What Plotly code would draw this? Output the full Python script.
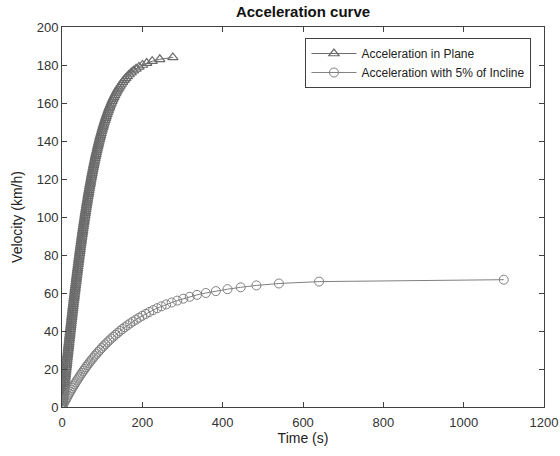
import plotly.graph_objects as go

# Acceleration in plane: velocity (km/h) and time (s)
plane_v = [0, 1, 2, 3, 4, 5, 6, 7, 8, 9, 10, 11, 12, 13, 14, 15, 16, 17, 18, 19, 20,
           21, 22, 23, 24, 25, 26, 27, 28, 29, 30, 31, 32, 33, 34, 35, 36, 37, 38, 39, 40,
           41, 42, 43, 44, 45, 46, 47, 48, 49, 50, 51, 52, 53, 54, 55, 56, 57, 58, 59, 60,
           61, 62, 63, 64, 65, 66, 67, 68, 69, 70, 71, 72, 73, 74, 75, 76, 77, 78, 79, 80,
           81, 82, 83, 84, 85, 86, 87, 88, 89, 90, 91, 92, 93, 94, 95, 96, 97, 98, 99, 100,
           101, 102, 103, 104, 105, 106, 107, 108, 109, 110, 111, 112, 113, 114, 115, 116,
           117, 118, 119, 120, 121, 122, 123, 124, 125, 126, 127, 128, 129, 130, 131, 132,
           133, 134, 135, 136, 137, 138, 139, 140, 141, 142, 143, 144, 145, 146, 147, 148,
           149, 150, 151, 152, 153, 154, 155, 156, 157, 158, 159, 160, 161, 162, 163, 164,
           165, 166, 167, 168, 169, 170, 171, 172, 173, 174, 175, 176, 177, 178, 179, 180,
           181, 182, 183, 184]
plane_t = [0, 0.5, 1.0, 1.5, 2.0, 2.5, 3.0, 3.5, 4.0, 4.5, 5.1, 5.6, 6.1, 6.6, 7.1, 7.6,
           8.1, 8.6, 9.1, 9.6, 10.1, 10.6, 11.2, 11.7, 12.2, 12.7, 13.2, 13.7, 14.2, 14.8,
           15.3, 15.8, 16.3, 16.8, 17.4, 17.9, 18.4, 18.9, 19.5, 20.0, 20.5, 21.0, 21.6,
           22.1, 22.6, 23.2, 23.7, 24.3, 24.8, 25.3, 25.9, 26.4, 27.0, 27.5, 28.1, 28.6,
           29.2, 29.7, 30.3, 30.9, 31.4, 32.0, 32.6, 33.1, 33.7, 34.3, 34.9, 35.4, 36.0,
           36.6, 37.2, 37.8, 38.4, 39.0, 39.6, 40.2, 40.8, 41.4, 42.0, 42.6, 43.2, 43.9,
           44.5, 45.1, 45.7, 46.4, 47.0, 47.7, 48.3, 49.0, 49.6, 50.3, 51.0, 51.6, 52.3,
           53.0, 53.7, 54.4, 55.1, 55.8, 56.5, 57.2, 57.9, 58.7, 59.4, 60.1, 60.9, 61.6,
           62.4, 63.2, 64.0, 64.7, 65.5, 66.3, 67.1, 68.0, 68.8, 69.6, 70.5, 71.3, 72.2,
           73.1, 74.0, 74.9, 75.8, 76.7, 77.6, 78.6, 79.5, 80.5, 81.5, 82.5, 83.5, 84.6,
           85.6, 86.7, 87.8, 88.9, 90.0, 91.2, 92.3, 93.5, 94.7, 96.0, 97.3, 98.5, 99.9,
           101.2, 102.6, 104.0, 105.5, 107.0, 108.5, 110.1, 111.7, 113.4, 115.1, 116.9,
           118.7, 120.6, 122.6, 124.6, 126.7, 128.9, 131.3, 133.7, 136.2, 138.9, 141.7,
           144.6, 147.8, 151.1, 154.7, 158.6, 162.8, 167.4, 172.4, 178.0, 184.4, 191.7,
           200.4, 210.9, 224.5, 243.5, 276.0]

# Acceleration with 5% of incline
incline_v = [0, 1, 2, 3, 4, 5, 6, 7, 8, 9, 10, 11, 12, 13, 14, 15, 16, 17, 18, 19, 20,
             21, 22, 23, 24, 25, 26, 27, 28, 29, 30, 31, 32, 33, 34, 35, 36, 37, 38, 39,
             40, 41, 42, 43, 44, 45, 46, 47, 48, 49, 50, 51, 52, 53, 54, 55, 56, 57, 58,
             59, 60, 61, 62, 63, 64, 65, 66, 67]
incline_t = [0, 2.4, 4.8, 7.3, 9.8, 12.4, 14.9, 17.6, 20.2, 23.0, 25.7, 28.6, 31.4, 34.3,
             37.3, 40.3, 43.4, 46.6, 49.8, 53.1, 56.4, 59.8, 63.3, 66.9, 70.6, 74.3, 78.1,
             82.0, 86.1, 90.2, 94.4, 98.8, 103.2, 107.8, 112.6, 117.5, 122.5, 127.7, 133.1,
             138.6, 144.4, 150.3, 156.5, 163.0, 169.7, 176.7, 184.1, 191.8, 199.9, 208.4,
             217.4, 226.9, 237.0, 247.8, 259.4, 273.0, 287.0, 302.0, 318.0, 336.0, 358.0,
             383.0, 412.0, 445.0, 484.0, 540.0, 640.0, 1100.0]

x_ticks = [0, 200, 400, 600, 800, 1000, 1200]
y_ticks = [0, 20, 40, 60, 80, 100, 120, 140, 160, 180, 200]

gray = "#6a6a6a"
fig = go.Figure()
fig.add_trace(go.Scatter(
    x=plane_t, y=plane_v, mode="lines+markers", name="Acceleration in Plane",
    line=dict(color=gray, width=1),
    marker=dict(symbol="triangle-up-open", size=9, color=gray, line=dict(width=1.2))))
fig.add_trace(go.Scatter(
    x=incline_t, y=incline_v, mode="lines+markers", name="Acceleration with 5% of Incline",
    line=dict(color="#808080", width=1),
    marker=dict(symbol="circle-open", size=9, color="#808080", line=dict(width=1))))

axis_common = dict(showline=True, linecolor="#404040", linewidth=1, mirror="ticks",
                   ticks="inside", ticklen=5, tickcolor="#404040", showgrid=False,
                   zeroline=False, automargin=False,
                   tickfont=dict(size=13, color="#333333"))

fig.update_layout(
    width=560, height=456,
    margin=dict(l=62, r=16, t=27, b=49),
    paper_bgcolor="white", plot_bgcolor="white",
    font=dict(family="Liberation Sans, Arial, sans-serif", color="#222222"),
    title=dict(text="<b>Acceleration curve</b>", x=0.5, xref="paper", xanchor="center",
               y=0.975, yanchor="middle", font=dict(size=15, color="#111111")),
    xaxis=dict(range=[0, 1200], tickvals=x_ticks, ticklabelstandoff=3,
               title=dict(text="Time (s)", font=dict(size=14), standoff=4),
               **axis_common),
    yaxis=dict(range=[0, 200], tickvals=y_ticks,
               title=dict(text="Velocity (km/h)", font=dict(size=14), standoff=10),
               **axis_common),
    legend=dict(x=0.974, y=0.971, xanchor="right", yanchor="top",
                bgcolor="white", bordercolor="#404040", borderwidth=1,
                font=dict(size=12, color="#222222"), tracegroupgap=0,
                itemwidth=45),
    showlegend=True,
)

fig.write_html("out.html")
